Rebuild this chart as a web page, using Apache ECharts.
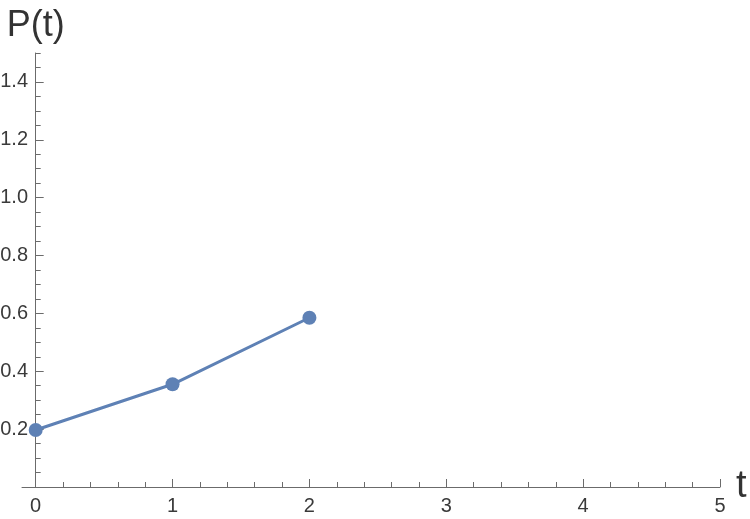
<!DOCTYPE html>
<html>
<head>
<meta charset="utf-8">
<script src="https://cdn.jsdelivr.net/npm/echarts@6/dist/echarts.min.js"></script>
<style>
    html, body {margin: 0; padding: 0; background: #fff;}
    #chart {width: 750px; height: 519px;}
</style>
</head>
<body>
<div id="chart"></div>
<script>
    // data
    var tValues = [0, 1, 2];
    var pValues = [0.197, 0.355, 0.585];

    var xMajor = [0, 1, 2, 3, 4, 5];
    var xMinor = [0.2, 0.4, 0.6, 0.8, 1.2, 1.4, 1.6, 1.8, 2.2, 2.4, 2.6, 2.8,
        3.2, 3.4, 3.6, 3.8, 4.2, 4.4, 4.6, 4.8];
    var yMajor = [0.2, 0.4, 0.6, 0.8, 1.0, 1.2, 1.4];
    var yMinor = [0.05, 0.1, 0.15, 0.25, 0.3, 0.35, 0.45, 0.5, 0.55, 0.65, 0.7, 0.75,
        0.85, 0.9, 0.95, 1.05, 1.1, 1.15, 1.25, 1.3, 1.35, 1.45, 1.5];

    var axisColor = '#6b6b6b';
    var labelColor = '#3a3a3a';
    var font = 'Liberation Sans';

    var points = [];
    for (var i = 0; i < tValues.length; i++) {
        points.push([tValues[i], pValues[i]]);
    }

    var myChart = echarts.init(document.getElementById('chart'));
    myChart.setOption({
        animation: false,
        grid: {left: 22, right: 30, top: 53, bottom: 32, containLabel: false, outerBoundsMode: 'none'},
        xAxis: [{
            type: 'value',
            min: -0.1,
            max: 5,
            name: 't',
            nameLocation: 'end',
            nameGap: 16,
            nameTextStyle: {fontSize: 38, color: '#333', fontFamily: font, verticalAlign: 'middle'},
            axisLine: {lineStyle: {color: axisColor, width: 1}},
            axisTick: {inside: true, length: 8, customValues: xMajor, lineStyle: {color: axisColor}},
            axisLabel: {customValues: xMajor, color: labelColor, fontSize: 20, fontFamily: font, margin: 9},
            splitLine: {show: false}
        }, {
            type: 'value',
            min: -0.1,
            max: 5,
            position: 'bottom',
            axisLine: {show: false},
            axisTick: {inside: true, length: 5, customValues: xMinor, lineStyle: {color: axisColor}},
            axisLabel: {show: false},
            splitLine: {show: false}
        }],
        yAxis: [{
            type: 'value',
            min: 0,
            max: 1.5,
            name: 'P(t)',
            nameLocation: 'end',
            nameGap: 9,
            nameTextStyle: {fontSize: 36, color: '#333', fontFamily: font},
            axisLine: {onZero: true, onZeroAxisIndex: 0, lineStyle: {color: axisColor, width: 1}},
            axisTick: {inside: true, length: 8, customValues: yMajor, lineStyle: {color: axisColor}},
            // labels stay at the grid edge, so pull them over to the axis line
            axisLabel: {
                customValues: yMajor, color: labelColor, fontSize: 20, fontFamily: font, margin: -6,
                formatter: function (v) { return v.toFixed(1); }
            },
            splitLine: {show: false}
        }, {
            type: 'value',
            min: 0,
            max: 1.5,
            position: 'left',
            axisLine: {show: false, onZero: true, onZeroAxisIndex: 0},
            axisTick: {inside: true, length: 5, customValues: yMinor, lineStyle: {color: axisColor}},
            axisLabel: {show: false},
            splitLine: {show: false}
        }],
        series: [{
            type: 'line',
            xAxisIndex: 0,
            yAxisIndex: 0,
            data: points,
            symbol: 'circle',
            symbolSize: 14,
            lineStyle: {color: '#5E81B5', width: 3},
            itemStyle: {color: '#5E81B5'}
        }]
    });
</script>
</body>
</html>
